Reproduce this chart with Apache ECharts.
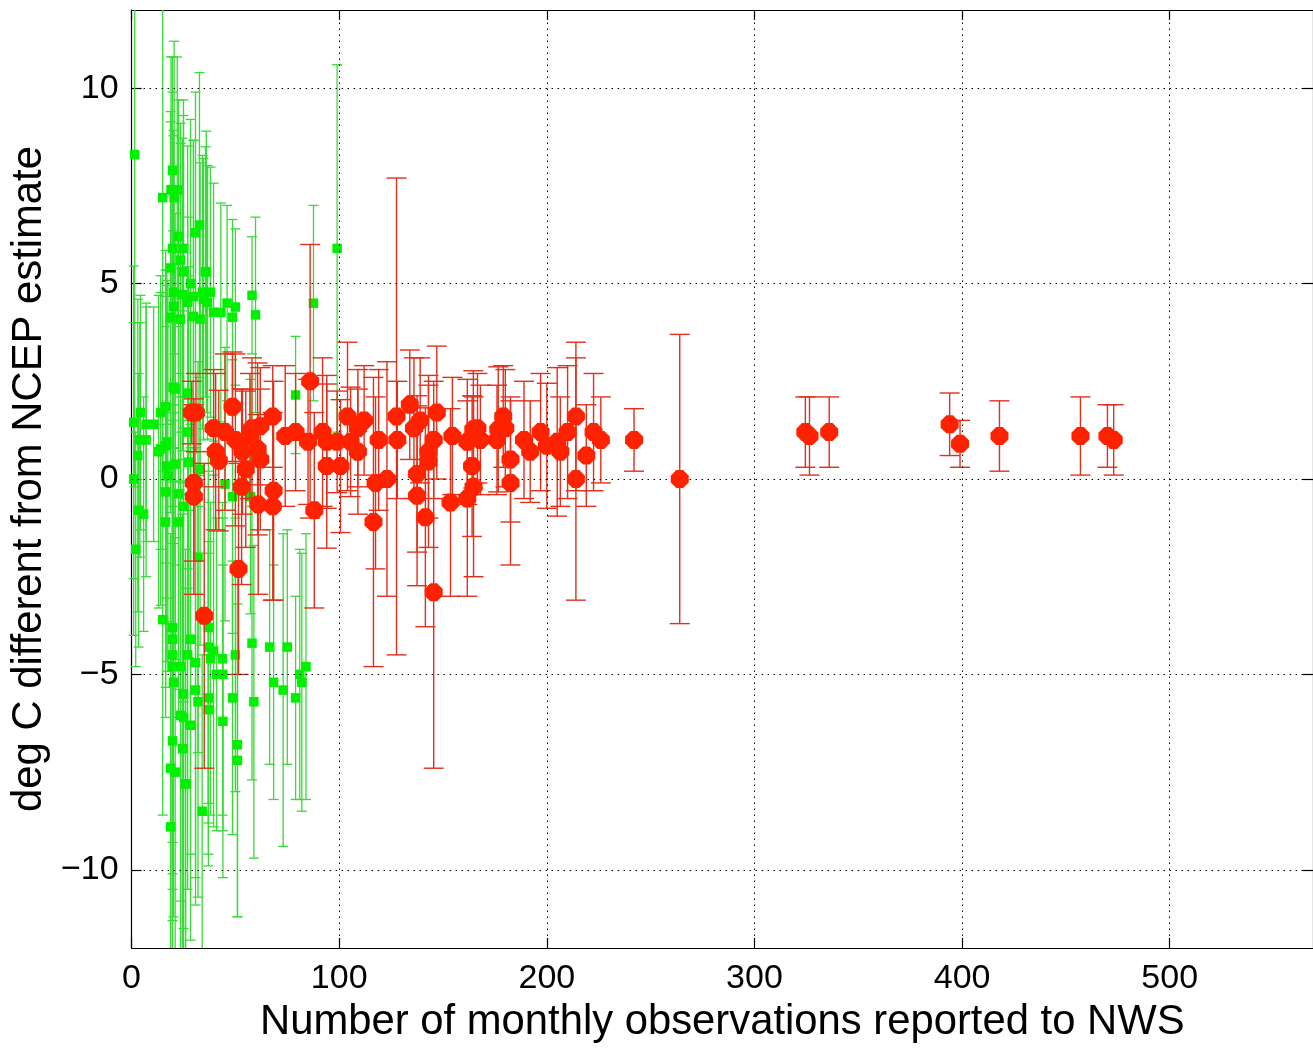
<!DOCTYPE html>
<html><head><meta charset="utf-8">
<script src="https://cdn.jsdelivr.net/npm/echarts@6/dist/echarts.min.js"></script>
<style>html,body{margin:0;padding:0;background:#fff}#c{width:1313px;height:1048px}</style>
</head><body><div id="c"></div>
<script>
// ---- tick labels ----
const xTicks = [0, 100, 200, 300, 400, 500];
const yTicks = [-10, -5, 0, 5, 10];
const xTitle = 'Number of monthly observations reported to NWS';
const yTitle = 'deg C different from NCEP estimate';

// ---- green series (x, value, error half-width) ----
const greenX = [1.5,15,19.7,19,22,20.5,22.6,25,19.7,32.7,30.8,23.6,18.8,25,36,28.4,99,58,20.2,24.5,
  29.8,34.2,38,35.6,20.2,27,34.6,36.6,18.8,23.6,29.8,33,39.5,46,50,43,48.6,59.7,87.6,79,
  4.3,1,7,10.6,14,20,4,7,14,1,17,27,16.4,21,27,13,16.4,27.5,17,17.5,
  3,21,16.4,22.6,25,3.4,5.8,16.4,22.6,45,48.6,57.3,33,2,15,19.7,19.7,19.7,19.7,23.6,
  27,28.4,30.8,20.2,25,30.8,32,23.6,25,28.4,19.7,24.5,18.8,21,26,37,37,39.5,38,41,
  44,37,37,44,43.8,32,50,48.6,51,51,58,58.9,66.5,68.4,73,75,79,81,82,84,
  18.8,34,26];
const greenY = [8.3,7.2,7.9,7.4,7.4,7.2,6.2,5.9,5.9,6.5,6.3,5.6,5.4,5.3,5.3,5.0,5.9,4.7,4.78,4.72,
  4.67,4.78,4.78,5.3,4.42,4.52,4.6,4.52,4.14,4.09,4.16,4.09,4.27,4.5,4.4,4.26,4.14,4.2,4.5,2.15,
  1.7,1.45,1.4,1.4,1.7,2.35,1.0,1.0,0.77,0.0,0.95,1.2,1.85,2.3,2.2,0.7,0.85,0.43,0.33,0.08,
  0.6,0.38,-0.33,-0.38,-0.7,-0.8,-0.9,-1.1,-1.1,-0.13,-0.45,-0.45,0.25,-1.8,-3.6,-3.8,-4.1,-4.5,-4.8,-4.8,
  -4.5,-4.1,-4.7,-5.2,-5.5,-5.4,-5.7,-6.05,-6.1,-6.3,-6.7,-6.9,-7.4,-7.5,-7.8,-3.8,-4.3,-4.4,-4.6,-5.0,
  -5.0,-5.6,-5.9,-6.2,-4.6,-2.0,-4.5,-5.6,-6.8,-7.2,-4.2,-5.7,-4.3,-5.2,-5.4,-4.3,-5.6,-5.0,-5.2,-4.8,
  -8.9,-8.5,-7.8];
const greenErr = [8.5,7,2.9,3.4,3.4,4,3.5,3.8,4,3.9,3.6,3.5,4,4,3.6,4.2,4.7,1.5,4,4,
  4,3.5,3.2,3.2,4.5,4,3.6,3.5,5,4.5,4.5,4,3.3,2.5,2.0,2.8,2.5,2.5,2.5,1.5,
  3,4,3,3,3.5,4,3,3.5,4,4,4,4,4,4.5,4.5,4,4.5,5,5,5,
  4,5,5,5,5,3.5,3,5,5,3.5,3.5,3,4.5,3,5,5.5,6,6,6.5,6,
  6,5.5,5.5,6,6,5.5,5,6,6,5.5,6,6,6,6,6,4.5,4.5,4.5,4,4,
  4,4,4,4,4,5,3.5,3.5,4.4,4,3.5,4.0,3,3.0,4.0,3,2.6,3.2,3.3,3.4,
  5,4,5];

// ---- red series (x, value, error half-width) ----
const redX = [29,31,30,30,35,39.5,40.5,42,45,48.6,50,51.5,53.4,53,55,58,60.7,62,61,68,
  68.4,68,57,62,74,79,85,86,88,92,94,94,100.6,99,104,105.5,109,109,112,116.5,
  117.5,119,123,128,127.6,134,136,137.5,137.5,139,141.5,143,143,145.5,147,145.5,153.6,154.5,161.7,161.7,
  164,164.7,164.6,166.6,168,176,176.6,179,180,182.5,182.5,189,192,197,200,205,206.5,210,214,214,
  219,222.5,226,242,264,324.5,326.5,336,394,399,418,457,470,473];
const redY = [1.7,1.7,-0.1,-0.45,-3.5,1.3,0.7,0.47,1.2,1.85,1.0,-2.3,0.7,-0.2,0.25,1.3,0.77,0.5,-0.65,1.6,
  -0.3,-0.7,1.1,1.35,1.1,1.2,0.95,2.5,-0.8,1.2,0.95,0.33,0.33,0.95,1.6,0.95,0.7,1.3,1.5,-1.1,
  -0.1,1.0,0.0,1.0,1.6,1.9,1.3,0.13,-0.43,1.5,-0.98,0.7,0.45,1.0,1.7,-2.9,-0.6,1.1,0.95,-0.5,
  0.33,-0.2,1.27,1.3,1.0,1.0,1.27,1.6,1.3,0.5,-0.1,1.0,0.7,1.2,0.85,0.95,0.7,1.2,1.6,0.0,
  0.6,1.2,1.0,1.0,0.0,1.2,1.1,1.2,1.4,0.9,1.1,1.1,1.1,1.0];
const redErr = [0.8,1.0,2.0,2.5,3.9,1.5,2.0,1.8,2.0,1.4,2.2,2.7,1.6,2.5,2.0,1.8,2.2,1.8,2.3,1.3,
  2.8,2.4,1.6,1.5,1.8,1.5,1.6,3.5,2.5,1.9,1.7,2.1,1.7,1.3,1.9,1.4,1.6,1.5,1.4,3.7,
  2.2,1.8,3.0,1.5,6.1,1.4,1.8,2.0,2.3,1.6,2.8,1.7,2.2,1.5,1.7,4.5,2.4,1.5,1.6,2.5,
  1.8,2.3,1.5,1.4,1.4,1.4,1.6,1.3,1.5,1.6,2.1,1.5,1.3,1.5,1.6,1.9,1.4,1.7,1.9,3.1,
  1.3,1.5,1.1,0.8,3.7,0.9,1.0,0.9,0.8,0.6,0.9,1.0,0.8,0.9];

const greenData = greenX.map((x, i) => [x, greenY[i], greenErr[i]]);
const redData = redX.map((x, i) => [x, redY[i], redErr[i]]);

function errRender(capHalf, color, width) {
  return function (params, api) {
    const x = api.value(0), y = api.value(1), e = api.value(2);
    const top = api.coord([x, y + e]);
    const bot = api.coord([x, y - e]);
    const cs = params.coordSys;
    const y0 = cs.y, y1 = cs.y + cs.height;
    const px = top[0];
    const tY = Math.max(top[1], y0), bY = Math.min(bot[1], y1);
    const st = { stroke: color, lineWidth: width };
    const ch = [{ type: 'line', shape: { x1: px, y1: tY, x2: px, y2: bY }, style: st }];
    if (top[1] >= y0) ch.push({ type: 'line', shape: { x1: px - capHalf, y1: top[1], x2: px + capHalf, y2: top[1] }, style: st });
    if (bot[1] <= y1) ch.push({ type: 'line', shape: { x1: px - capHalf, y1: bot[1], x2: px + capHalf, y2: bot[1] }, style: st });
    return { type: 'group', children: ch };
  };
}

const FONT = "'Liberation Sans', Arial, Helvetica, sans-serif";
const octagon = 'path://M5,0 L11,0 L16,5 L16,11 L11,16 L5,16 L0,11 L0,5 Z';
const gridLineStyle = { color: '#000', width: 1, type: [1.5, 4.5] };
const fmtTick = v => (v < 0 ? '\u2212' + (-v) : String(v));

const chart = echarts.init(document.getElementById('c'), null, { renderer: 'canvas' });
chart.setOption({
  animation: false,
  backgroundColor: '#fff',
  grid: { left: 131, top: 10, width: 1182, height: 940, containLabel: false },
  xAxis: [{
    type: 'value', min: 0, max: 569, position: 'bottom',
    name: xTitle, nameLocation: 'middle', nameGap: 53,
    nameTextStyle: { fontFamily: FONT, fontSize: 41.8, color: '#000' },
    axisLine: { show: true, onZero: false, lineStyle: { color: '#000', width: 1.2 } },
    axisTick: { show: true, inside: true, length: 10, customValues: xTicks, lineStyle: { color: '#000', width: 1.2 } },
    axisLabel: { customValues: xTicks, margin: 14, fontFamily: FONT, fontSize: 34, color: '#000' },
    splitLine: { show: false }
  }, {
    type: 'value', min: 0, max: 569, position: 'top',
    axisLine: { show: true, onZero: false, lineStyle: { color: '#000', width: 1.2 } },
    axisTick: { show: true, inside: true, length: 10, customValues: xTicks, lineStyle: { color: '#000', width: 1.2 } },
    axisLabel: { show: false }, splitLine: { show: false }
  }],
  yAxis: [{
    type: 'value', min: -12, max: 12, position: 'left',
    name: yTitle, nameLocation: 'middle', nameGap: 76,
    nameTextStyle: { fontFamily: FONT, fontSize: 41.8, color: '#000' },
    axisLine: { show: true, onZero: false, lineStyle: { color: '#000', width: 1.2 } },
    axisTick: { show: true, inside: true, length: 10, customValues: yTicks, lineStyle: { color: '#000', width: 1.2 } },
    axisLabel: { customValues: yTicks, formatter: fmtTick, margin: 13, fontFamily: FONT, fontSize: 34, color: '#000' },
    splitLine: { show: false }
  }, {
    type: 'value', min: -12, max: 12, position: 'right',
    axisLine: { show: true, onZero: false, lineStyle: { color: '#000', width: 1.2 } },
    axisTick: { show: true, inside: true, length: 10, customValues: yTicks, lineStyle: { color: '#000', width: 1.2 } },
    axisLabel: { show: false }, splitLine: { show: false }
  }],
  series: [
    {
      type: 'scatter', data: [], z: 1, silent: true,
      markLine: {
        silent: true, symbol: 'none', label: { show: false }, animation: false,
        lineStyle: gridLineStyle, emphasis: { disabled: true },
        data: xTicks.filter(v => v > 0).map(v => ({ xAxis: v })).concat(yTicks.map(v => ({ yAxis: v })))
      }
    },
    {
      type: 'custom', name: 'green err', data: greenData, z: 2, silent: true,
      encode: { x: 0, y: 1 }, renderItem: errRender(5, '#38da38', 1.3)
    },
    {
      type: 'scatter', name: 'green', data: greenData, z: 3, silent: true,
      symbol: 'rect', symbolSize: 9.5, itemStyle: { color: '#00f000', opacity: 1 }
    },
    {
      type: 'custom', name: 'red err', data: redData, z: 4, silent: true,
      encode: { x: 0, y: 1 }, renderItem: errRender(10, '#e0301c', 1.4)
    },
    {
      type: 'scatter', name: 'red', data: redData, z: 5, silent: true,
      symbol: octagon, symbolSize: 18, itemStyle: { color: '#ff2200', opacity: 1 }
    }
  ]
});
</script>
</body></html>
